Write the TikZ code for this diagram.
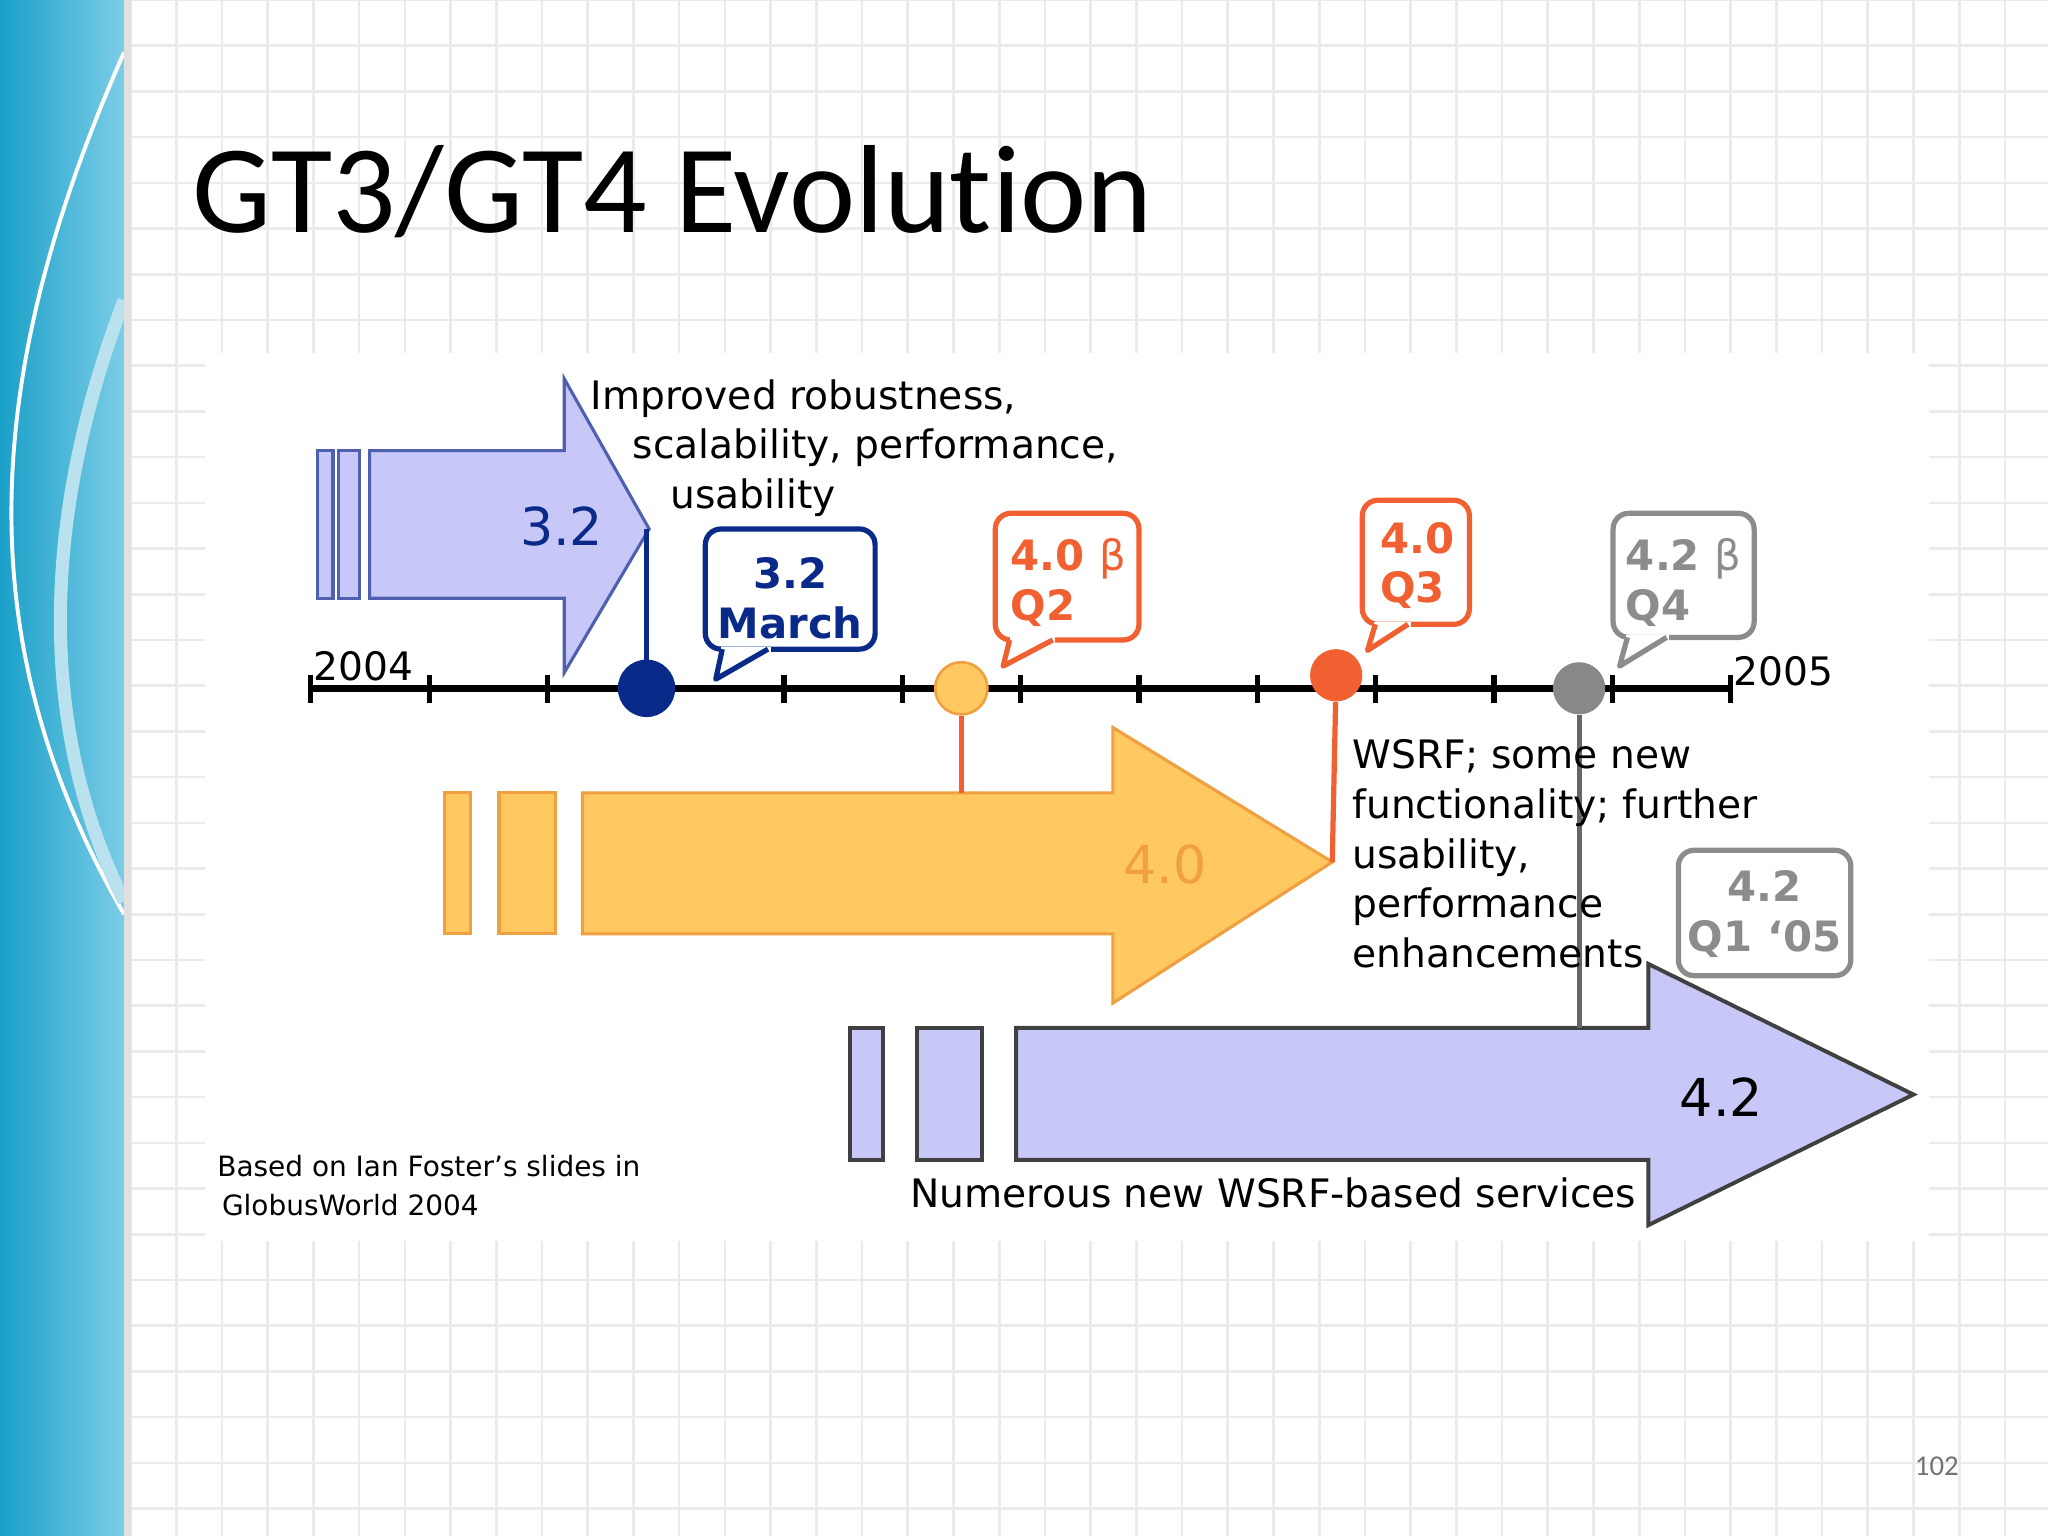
\documentclass[tikz,border=0pt]{standalone}
\usepackage{fontspec}
\setmainfont{DejaVu Sans}
\newfontfamily\titlefont[Ligatures=NoCommon]{Carlito}
\definecolor{lav}{HTML}{C8C8F8}
\definecolor{lavline}{HTML}{5060B0}
\definecolor{dblue}{HTML}{0A2A8A}
\definecolor{gold}{HTML}{FFC860}
\definecolor{goldline}{HTML}{F0A040}
\definecolor{redo}{HTML}{F06030}
\definecolor{greyb}{HTML}{888888}
\definecolor{stripA}{HTML}{1AA0C8}
\definecolor{stripB}{HTML}{7CCDE8}
\tikzset{
 lbl/.style={font=\fontsize{15}{18}\selectfont, inner sep=0pt},
 bub/.style={draw, line width=2pt, rounded corners=6pt, fill=white},
 bubtxt/.style={font=\fontsize{16}{19}\selectfont\bfseries, align=left, inner sep=0pt},
}
\newcommand{\betachar}{{\mdseries β}}
\begin{document}
\begin{tikzpicture}[x=0.5pt,y=-0.5pt]
\useasboundingbox (0,0) rectangle (1568,1176);
\fill[white] (0,0) rectangle (1568,1176);
% grid
\foreach \x in {100,135,...,1568} \draw[black!8, line width=1pt] (\x,0) -- (\x,1176);
\foreach \y in {0,35,...,1176} \draw[black!8, line width=1pt] (100,\y) -- (1568,\y);
% left strip
\shade[left color=stripA, right color=stripB] (0,0) rectangle (95,1176);
\draw[white, line width=1.5pt] (95,40) .. controls (-20,300) and (-20,500) .. (95,700);
\draw[white!70!stripA, line width=5pt] (95,230) .. controls (30,400) and (30,560) .. (95,690);
\fill[black!12] (95,0) rectangle (100,1176);
% diagram area
\fill[white] (157,270) rectangle (1477,950);
% title
\node[anchor=base west, font=\titlefont\fontsize{48}{52}\selectfont, inner sep=0pt] (title) at (147,178) {GT3/GT4 Evolution};
\node[anchor=base east, font=\titlefont\fontsize{11}{13}\selectfont, text=black!55, inner sep=0pt] (pg) at (1500,1130) {102};

% 4.2 arrow
\begin{scope}[fill=lav, draw=black!75, line width=1.5pt]
\filldraw (651,787) rectangle (676,888);
\filldraw (702,787) rectangle (752,888);
\filldraw (778,787) -- (1262,787) -- (1262,738) -- (1465,838) -- (1262,938) -- (1262,888) -- (778,888) -- cycle;
\end{scope}
\node[lbl, font=\fontsize{20}{24}\selectfont] (v42) at (1318,840) {4.2};
\node[lbl, fill=white, inner sep=2pt] (numerous) at (975,913) {Numerous new WSRF-based services};

% 3.2 arrow
\begin{scope}[fill=lav, draw=lavline, line width=1.2pt]
\filldraw (243,345) rectangle (255,458);
\filldraw (259,345) rectangle (275,458);
\filldraw (283,345) -- (432,345) -- (432,290) -- (497,405) -- (432,515) -- (432,458) -- (283,458) -- cycle;
\end{scope}
\node[lbl, font=\fontsize{20}{24}\selectfont, text=dblue] (v32) at (430,403) {3.2};

% 4.0 arrow
\begin{scope}[fill=gold, draw=goldline, line width=1.2pt]
\filldraw (340,607) rectangle (360,715);
\filldraw (382,607) rectangle (425,715);
\filldraw (446,607) -- (852,607) -- (852,557) -- (1020,660) -- (852,768) -- (852,715) -- (446,715) -- cycle;
\end{scope}
\node[lbl, font=\fontsize{20}{24}\selectfont, text=goldline] (v40) at (892,662) {4.0};

% timeline
\coordinate (t0) at (238,527);
\coordinate (t1) at (1325,527);
\draw[line width=2.5pt] (t0) -- (t1);
\foreach \i in {0,...,12} \draw[line width=2pt] ({238+\i*90.58},517) -- ({238+\i*90.58},538);
\node[lbl, anchor=south west] (y2004) at (240,522) {2004};
\node[lbl, anchor=south west] (y2005) at (1327,526) {2005};

% markers
\coordinate (tip32) at (495,405);
\node[circle, fill=dblue, minimum size=22pt, inner sep=0pt] (d32) at (495,527) {};
\draw[dblue, line width=2pt] (tip32) -- (d32.center);
\node[circle, fill=gold, draw=goldline, line width=1pt, minimum size=20pt, inner sep=0pt] (d40b) at (736,527) {};
\coordinate (a40top) at (736,607);
\draw[redo, line width=2pt] (d40b) -- (a40top);
\coordinate (tip40) at (1020,660);
\node[circle, fill=redo, minimum size=20pt, inner sep=0pt] (d40) at (1023,517) {};
\draw[redo, line width=2pt] (d40) -- (tip40);
\coordinate (a42top) at (1209,787);
\node[circle, fill=greyb, minimum size=20pt, inner sep=0pt] (d42b) at (1209,527) {};
\draw[black!60, line width=2pt] (d42b) -- (a42top);

% texts
\node[lbl, anchor=west] (imp1) at (452,305) {Improved robustness,};
\node[lbl, anchor=west] (imp2) at (484,343) {scalability, performance,};
\node[lbl, anchor=west] (imp3) at (513,381) {usability};
\node[lbl, anchor=north west, align=left, font=\fontsize{15}{19}\selectfont] (wsrf) at (1035,566) {WSRF; some new\\functionality; further\\usability,\\performance\\enhancements};
\node[lbl, anchor=west, font=\fontsize{10.7}{15}\selectfont, align=left] (based) at (166,908) {Based on Ian Foster's slides in\\ \,GlobusWorld 2004};

% bubbles
\draw[bub, draw=dblue] (540,405) rectangle (670,497);
\fill[white] (552,495) rectangle (590,500);
\draw[dblue, line width=2pt, line join=round] (553,497) -- (548,520) -- (588,497);
\node[bubtxt, text=dblue, align=center] (b32) at (605,458) {3.2\\March};

\draw[bub, draw=redo] (762,393) rectangle (872,490);
\fill[white] (773,488) rectangle (808,493);
\draw[redo, line width=2pt, line join=round] (773,490) -- (768,510) -- (806,490);
\node[bubtxt, text=redo] (b40b) at (818,446) {4.0 \betachar\\Q2};

\draw[bub, draw=redo] (1043,383) rectangle (1125,478);
\fill[white] (1052,476) rectangle (1080,481);
\draw[redo, line width=2pt, line join=round] (1053,478) -- (1047,498) -- (1078,478);
\node[bubtxt, text=redo] (b40) at (1085,433) {4.0\\Q3};

\draw[bub, draw=black!45] (1235,393) rectangle (1343,488);
\fill[white] (1245,486) rectangle (1278,491);
\draw[black!45, line width=2pt, line join=round] (1246,488) -- (1240,510) -- (1276,488);
\node[bubtxt, text=black!45] (b42b) at (1289,446) {4.2 \betachar\\Q4};

\draw[bub, draw=black!45] (1285,651) rectangle (1417,747);
\node[bubtxt, text=black!45, align=center] (b42) at (1351,700) {4.2\\Q1 `05};
\end{tikzpicture}
\end{document}
